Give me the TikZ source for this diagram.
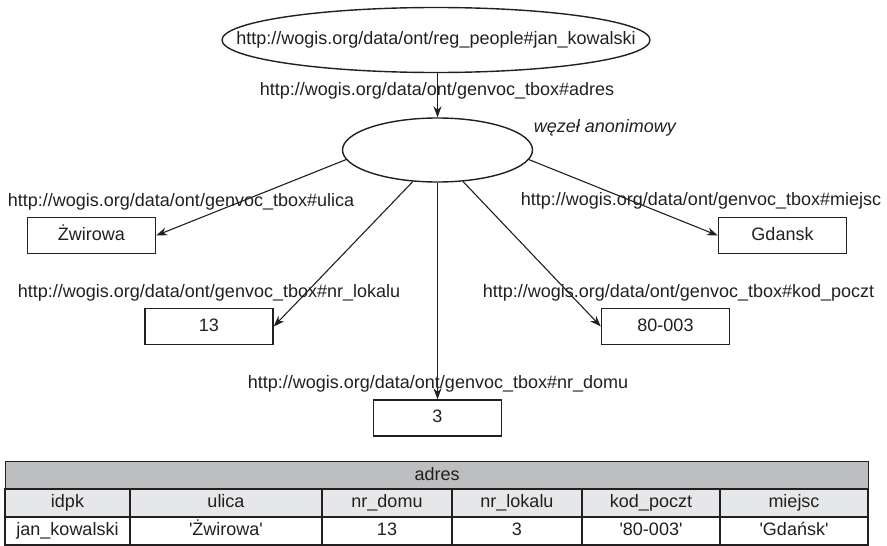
\documentclass[tikz,border=0pt]{standalone}
\usepackage{fontspec}
\setmainfont{Liberation Sans}
\usetikzlibrary{arrows.meta,shapes.geometric}
\definecolor{ink}{HTML}{231F20}
\definecolor{headgray}{HTML}{BCBEC0}
\definecolor{rowgray}{HTML}{E6E7E8}
\newcommand{\q}{\textquotesingle}
\begin{document}
\begin{tikzpicture}[x=1pt,y=-1pt,
  every node/.style={font=\fontsize{18}{21}\selectfont, text=ink},
  resource/.style={ellipse, draw=ink, line width=1.4pt, inner sep=0pt},
  literal/.style={rectangle, draw=ink, line width=1.4pt, minimum width=128pt,
    minimum height=36pt, inner sep=0pt, text height=13pt, text depth=4pt},
  prop/.style={anchor=base, inner sep=0pt},
  link/.style={draw=ink, line width=1.1pt, -{Stealth[length=11pt,width=8pt]}},
  cell/.style={rectangle, draw=ink, line width=1.4pt, minimum height=28pt,
    inner sep=0pt, text height=13pt, text depth=4pt}]
\useasboundingbox (0,0) rectangle (887,546);

% RDF graph: subject, blank node and literal values
\node[resource, minimum width=428pt, minimum height=65pt] (subj) at (436,40)
  {\makebox[0pt]{http://wogis.org/data/ont/reg\_people\#jan\_kowalski}};
\node[resource, minimum width=190pt, minimum height=64pt] (anon) at (437.5,150) {};
\node[prop, font=\fontsize{18}{21}\selectfont\itshape] (anonlbl) at (605,132) {węzeł anonimowy};

\node[literal] (ulica) at (91.5,235.5) {Żwirowa};
\node[literal] (lokal) at (209,326.5) {13};
\node[literal] (domu) at (437.5,418) {3};
\node[literal] (kod) at (665.5,326.5) {80-003};
\node[literal] (miejsc) at (782.5,235.5) {Gdansk};

% property names
\node[prop] (padres) at (437,95) {http://wogis.org/data/ont/genvoc\_tbox\#adres};
\node[prop] (pulica) at (181,206) {http://wogis.org/data/ont/genvoc\_tbox\#ulica};
\node[prop] (plokal) at (209,297) {http://wogis.org/data/ont/genvoc\_tbox\#nr\_lokalu};
\node[prop] (pdomu) at (438,388) {http://wogis.org/data/ont/genvoc\_tbox\#nr\_domu};
\node[prop] (pkod) at (678.5,297) {http://wogis.org/data/ont/genvoc\_tbox\#kod\_poczt};
\node[prop] (pmiejsc) at (701,205) {http://wogis.org/data/ont/genvoc\_tbox\#miejsc};

% edges
\draw[link] (anon.north |- subj.south) -- (anon.north);
\draw[link] (anon.186) -- (ulica.east);
\draw[link] (anon.232) -- (lokal.east);
\draw[link] (anon.south) -- (domu.north);
\draw[link] (anon.309) -- (kod.west);
\draw[link] (anon.354) -- (miejsc.west);

% relational table
\node[cell, fill=headgray, minimum width=863pt, anchor=north west] (thead) at (5,461) {adres};
\foreach \l/\r/\h/\v [count=\i] in {
    5/130/idpk/jan\_kowalski,
    130/322/ulica/\q Żwirowa\q,
    322/452/nr\_domu/13,
    452/582/nr\_lokalu/3,
    582/720/kod\_poczt/\q 80-003\q,
    720/868/miejsc/\q Gdańsk\q} {
  \node[cell, fill=rowgray, minimum width={\r-\l}] (col\i) at ({(\l+\r)/2},503) {\h};
  \node[cell, fill=white, minimum width={\r-\l}] (val\i) at ({(\l+\r)/2},531) {\v};
}
\end{tikzpicture}
\end{document}
